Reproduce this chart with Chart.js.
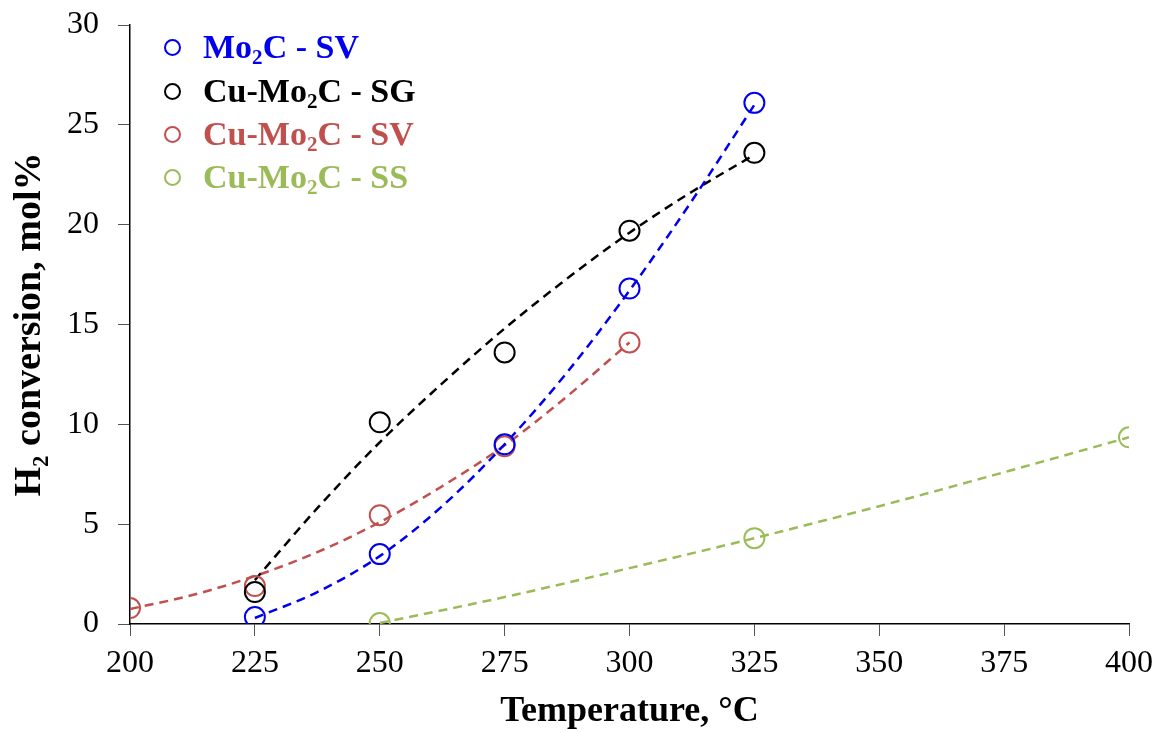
<!DOCTYPE html>
<html><head><meta charset="utf-8">
<script src="https://cdn.jsdelivr.net/npm/chart.js@4.4.0/dist/chart.umd.min.js"></script>
<style>
html,body{margin:0;padding:0;background:#fff;}
#wrap{position:relative;width:1159px;height:733px;}
#legend{position:absolute;left:0;top:0;width:0;height:0;}
.row{position:absolute;left:164px;height:40px;display:flex;align-items:center;white-space:nowrap;font:bold 34px "Liberation Serif",serif;}
.dot{width:17px;height:17px;border:2px solid;border-radius:50%;box-sizing:border-box;margin-right:22px;}
.row sub{font-size:0.62em;vertical-align:-0.28em;line-height:0;}
</style></head>
<body>
<div id="wrap">
<canvas id="c" width="1159" height="733"></canvas>
<div id="legend"></div>
</div>
<script>
// ---- data ----
const xTickValues = [200, 225, 250, 275, 300, 325, 350, 375, 400];
const yTickValues = [0, 5, 10, 15, 20, 25, 30];

const seriesNames = ['Mo<sub>2</sub>C - SV', 'Cu-Mo<sub>2</sub>C - SG', 'Cu-Mo<sub>2</sub>C - SV', 'Cu-Mo<sub>2</sub>C - SS'];
const seriesLabels = ['Mo₂C - SV', 'Cu-Mo₂C - SG', 'Cu-Mo₂C - SV', 'Cu-Mo₂C - SS'];

const mo2cSV_T = [225, 250, 275, 300, 325];
const mo2cSV   = [0.35, 3.5, 9.0, 16.8, 26.1];
const cuSG_T   = [225, 250, 275, 300, 325];
const cuSG     = [1.6, 10.1, 13.6, 19.7, 23.6];
const cuSV_T   = [200, 225, 250, 275, 300];
const cuSV     = [0.8, 1.9, 5.45, 8.9, 14.1];
const cuSS_T   = [250, 325, 400];
const cuSS     = [0.05, 4.3, 9.35];

// dashed trend lines
const trendMo2cSV_T = [225, 237.5, 250, 262.5, 275, 287.5, 300, 312.5, 325];
const trendMo2cSV   = [0.3, 1.6, 3.4, 5.9, 9.0, 12.6, 16.7, 21.2, 26.0];
const trendCuSG_T   = [225, 237.5, 250, 262.5, 275, 287.5, 300, 312.5, 325];
const trendCuSG     = [2.2, 5.8, 9.1, 12.05, 14.8, 17.3, 19.6, 21.65, 23.5];
const trendCuSV_T   = [200, 212.5, 225, 237.5, 250, 262.5, 275, 287.5, 300];
const trendCuSV     = [0.75, 1.45, 2.4, 3.6, 5.1, 6.9, 8.95, 11.4, 14.1];
const trendCuSS_T   = [250, 275, 300, 325, 350, 375, 400];
const trendCuSS     = [0.05, 1.35, 2.8, 4.3, 5.9, 7.6, 9.35];

// ---- styling ----
const colors = ['#0000EE', '#000000', '#C0504D', '#9BBB59'];
const FONT = '"Liberation Serif", "Times New Roman", serif';

function pts(xs, ys){ return xs.map((x,i)=>({x:x, y:ys[i]})); }

const markerSets = [[mo2cSV_T, mo2cSV],[cuSG_T, cuSG],[cuSV_T, cuSV],[cuSS_T, cuSS]];
const trendSets = [[trendMo2cSV_T, trendMo2cSV],[trendCuSG_T, trendCuSG],[trendCuSV_T, trendCuSV],[trendCuSS_T, trendCuSS]];

const datasets = [];
trendSets.forEach((s,i)=>{
  datasets.push({
    label: seriesLabels[i] + ' trend',
    data: pts(s[0], s[1]),
    showLine: true,
    borderColor: colors[i],
    borderWidth: 2.5,
    borderDash: [9, 6],
    pointRadius: 0,
    fill: false,
    cubicInterpolationMode: 'monotone',
    order: 2
  });
});
markerSets.forEach((s,i)=>{
  datasets.push({
    label: seriesLabels[i],
    data: pts(s[0], s[1]),
    showLine: false,
    borderColor: colors[i],
    backgroundColor: 'rgba(0,0,0,0)',
    pointStyle: 'circle',
    pointRadius: 10,
    pointBorderWidth: 2,
    order: 1
  });
});

new Chart(document.getElementById('c'), {
  type: 'scatter',
  data: { datasets: datasets },
  options: {
    responsive: false,
    animation: false,
    layout: { padding: { top: 25, right: 30, left: 0, bottom: 0 } },
    plugins: { legend: { display: false }, tooltip: { enabled: false } },
    scales: {
      x: {
        type: 'linear', min: 200, max: 400,
        afterBuildTicks(scale){ scale.ticks = xTickValues.map(v=>({value:v})); },
        ticks: { font: { family: FONT, size: 32 }, color: '#000', padding: 8, maxRotation: 0, autoSkip: false },
        grid: { drawOnChartArea: false, drawTicks: true, tickLength: 12, tickColor: '#555' },
        border: { color: '#000', width: 1.5 },
        title: { display: true, text: 'Temperature, °C', color: '#000',
                 font: { family: FONT, size: 36, weight: 'bold', lineHeight: 1.2 }, padding: { top: 0, bottom: 0 } },
        afterFit(scale){ scale.height = 109; scale.paddingLeft = 0; scale.paddingRight = 0; }
      },
      y: {
        type: 'linear', min: 0, max: 30,
        afterBuildTicks(scale){ scale.ticks = yTickValues.map(v=>({value:v})); },
        ticks: { font: { family: FONT, size: 32 }, color: '#000', padding: 19 },
        grid: { drawOnChartArea: false, drawTicks: true, tickLength: 12, tickColor: '#555' },
        border: { color: '#000', width: 1.5 },
        title: { display: true, text: 'H₂ conversion, mol%', color: '#000',
                 font: { family: FONT, size: 38, weight: 'bold', lineHeight: 1.2 }, padding: { top: 7, bottom: 0 } },
        afterFit(scale){ scale.width = 130; scale.paddingTop = 0; scale.paddingBottom = 0; }
      }
    }
  }
});

// legend (HTML, inside plot area)
const legendRowsY = [47, 91, 134, 177];
const lg = document.getElementById('legend');
seriesNames.forEach((n,i)=>{
  const r = document.createElement('div');
  r.className = 'row';
  r.style.top = (legendRowsY[i] - 20) + 'px';
  r.style.color = colors[i];
  r.innerHTML = '<span class="dot" style="border-color:' + colors[i] + '"></span><span>' + n + '</span>';
  lg.appendChild(r);
});
</script>
</body></html>
